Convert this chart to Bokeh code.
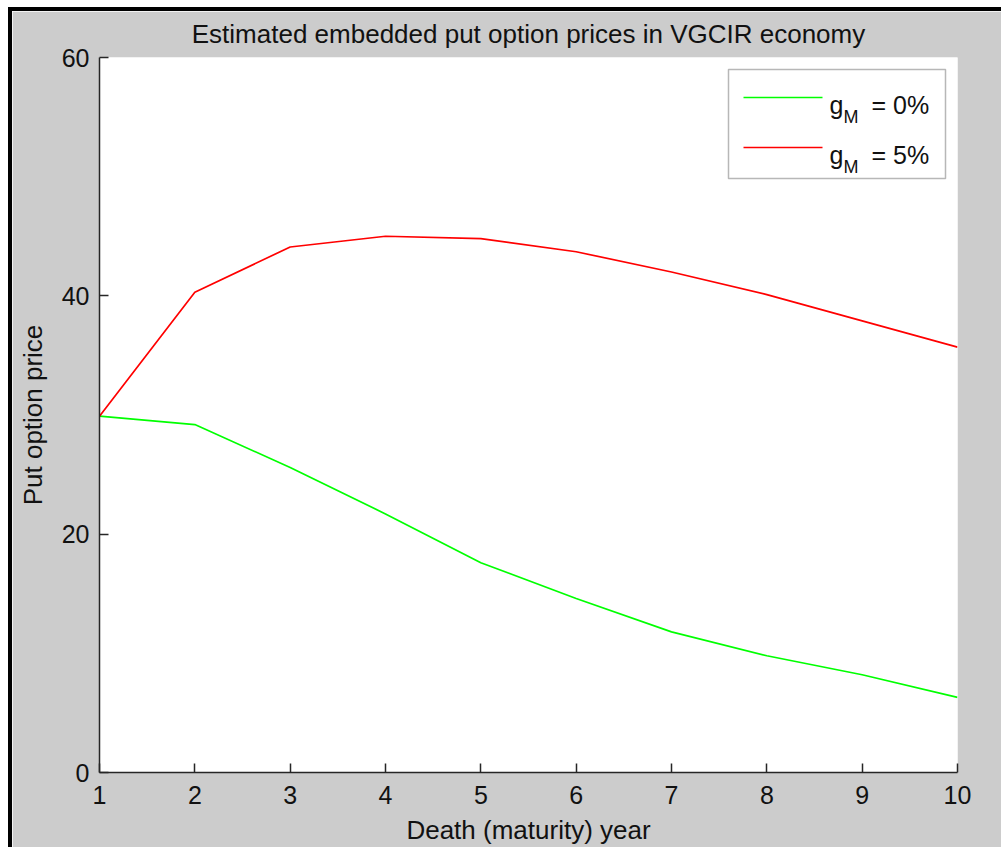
from bokeh.plotting import figure
from bokeh.models import Range1d, FixedTicker, Label, BoxAnnotation
from bokeh.embed import file_html
from bokeh.resources import INLINE

# ---- data ----
years = [1, 2, 3, 4, 5, 6, 7, 8, 9, 10]
put_g0 = [29.9, 29.2, 25.6, 21.7, 17.6, 14.6, 11.8, 9.8, 8.2, 6.3]
put_g5 = [29.9, 40.3, 44.1, 45.0, 44.8, 43.7, 42.0, 40.1, 37.9, 35.7]
x_ticks = [1, 2, 3, 4, 5, 6, 7, 8, 9, 10]
y_ticks = [0, 20, 40, 60]
series_names = ["= 0%", "= 5%"]
series_colors = ["#00ff00", "#ff0000"]
title_text = "Estimated embedded put option prices in VGCIR economy"

FONT = "Liberation Sans"
GRAY = "#cccccc"
AXC = "#262626"
TXT = "#111111"

W, H = 995, 841          # canvas size
ML, MR, MT, MB = 87, 50, 46, 80

p = figure(width=W, height=H, output_backend="svg", toolbar_location=None,
           x_range=Range1d(1, 10), y_range=Range1d(0, 60),
           min_border_left=ML, min_border_right=MR,
           min_border_top=MT, min_border_bottom=MB,
           background_fill_color="white", border_fill_color=GRAY,
           title=title_text)
p.margin = (11, 0, 0, 12)
p.styles = {"box-shadow": "-4px -4px 0px 0px black"}

p.outline_line_color = None
p.grid.visible = False

p.title.align = "center"
p.title.offset = -3
p.title.vertical_align = "top"
p.title.text_font = FONT
p.title.text_font_size = "26px"
p.title.text_font_style = "normal"
p.title.text_color = TXT
p.title.standoff = 13

for ax in (p.xaxis[0], p.yaxis[0]):
    ax.axis_line_color = AXC
    ax.axis_line_width = 1.5
    ax.major_tick_line_color = AXC
    ax.major_tick_line_width = 1.5
    ax.major_tick_in = 9
    ax.major_tick_out = 0
    ax.minor_tick_line_color = None
    ax.major_label_text_font = FONT
    ax.major_label_text_font_size = "25px"
    ax.major_label_text_color = TXT
    ax.axis_label_text_font = FONT
    ax.axis_label_text_font_size = "26px"
    ax.axis_label_text_font_style = "normal"
    ax.axis_label_text_color = TXT

p.xaxis.ticker = FixedTicker(ticks=x_ticks)
p.yaxis.ticker = FixedTicker(ticks=y_ticks)
p.xaxis.axis_label = "Death (maturity) year"
p.yaxis.axis_label = "Put option price"
p.xaxis.major_label_standoff = 13
p.xaxis.axis_label_standoff = 8
p.yaxis.major_label_standoff = 10
p.yaxis.axis_label_standoff = 11

p.line(years, put_g0, line_color=series_colors[0], line_width=1.7)
p.line(years, put_g5, line_color=series_colors[1], line_width=1.7)

# ---- helpers: pixel offsets inside the frame -> data coordinates (legend layout only) ----
FW, FH = W - ML - MR, H - MT - MB
def fx(px):
    return 1 + px * 9 / FW
def fy(py):
    return 60 - py * 60 / FH

# ---- legend (built manually for the subscript) ----
box_l, box_r, box_t, box_b = 629, 846, 12, 121
p.add_layout(BoxAnnotation(left=fx(box_l), right=fx(box_r), top=fy(box_t), bottom=fy(box_b),
                           fill_color="white", fill_alpha=1, line_color=TXT, line_width=1.5,
                           level="underlay"))
row_y = [40, 90]
for i in range(2):
    p.line([fx(644), fx(723)], [fy(row_y[i]), fy(row_y[i])], line_color=series_colors[i], line_width=1.7)
    base = row_y[i] + 7
    p.add_layout(Label(x=fx(730), y=fy(base), text="g", text_font=FONT, text_font_size="25px",
                       text_color=TXT, text_baseline="alphabetic"))
    p.add_layout(Label(x=fx(744), y=fy(base + 12), text="M", text_font=FONT, text_font_size="18px",
                       text_color=TXT, text_baseline="alphabetic"))
    p.add_layout(Label(x=fx(772), y=fy(base), text=series_names[i], text_font=FONT, text_font_size="25px",
                       text_color=TXT, text_baseline="alphabetic"))

open("out.html", "w").write(file_html(p, INLINE))
